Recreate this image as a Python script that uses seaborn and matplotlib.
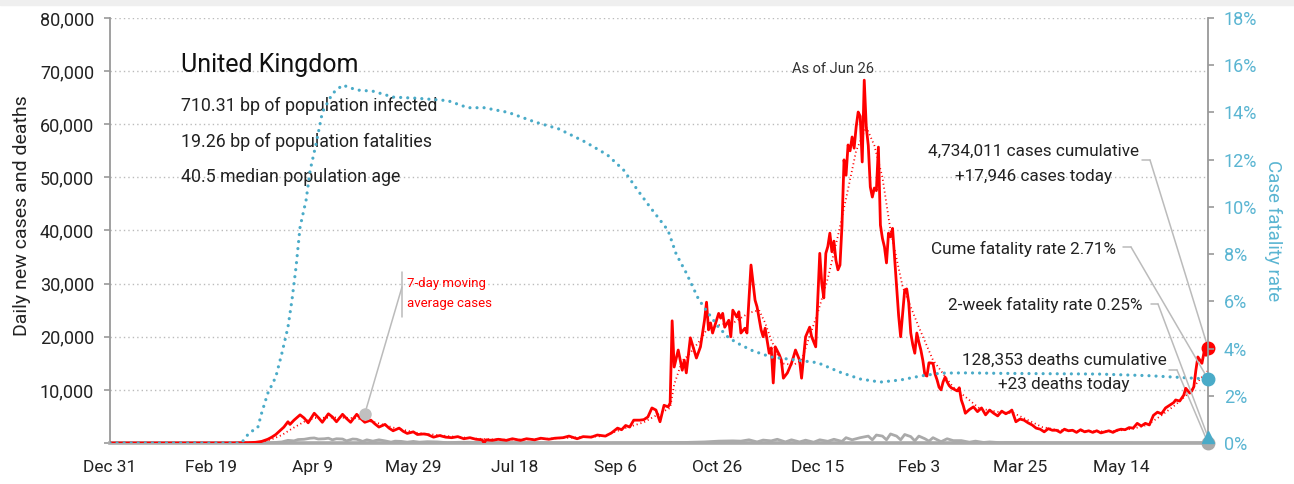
import matplotlib
matplotlib.use("Agg")
import matplotlib.pyplot as plt
import matplotlib.dates as mdates
import seaborn as sns
import pandas as pd

# ---------------- data ----------------
cases_dates = [
    "2019-12-31", "2020-01-31", "2020-02-29", "2020-03-05", "2020-03-09", "2020-03-12", "2020-03-15",
    "2020-03-18", "2020-03-20", "2020-03-22", "2020-03-24", "2020-03-26", "2020-03-28", "2020-03-29", "2020-03-31",
    "2020-04-03", "2020-04-05", "2020-04-07", "2020-04-10", "2020-04-12", "2020-04-14", "2020-04-17",
    "2020-04-19", "2020-04-21", "2020-04-24", "2020-04-26", "2020-04-28",
    "2020-05-01", "2020-05-03", "2020-05-05", "2020-05-08", "2020-05-10", "2020-05-12", "2020-05-15",
    "2020-05-17", "2020-05-19", "2020-05-22", "2020-05-24", "2020-05-26", "2020-05-29", "2020-05-31",
    "2020-06-03", "2020-06-05", "2020-06-08", "2020-06-11", "2020-06-14", "2020-06-17", "2020-06-20",
    "2020-06-23", "2020-06-26", "2020-06-29",
    "2020-07-02", "2020-07-03", "2020-07-04", "2020-07-07", "2020-07-10", "2020-07-14", "2020-07-17",
    "2020-07-21", "2020-07-24", "2020-07-28", "2020-07-31",
    "2020-08-04", "2020-08-07", "2020-08-11", "2020-08-14", "2020-08-18", "2020-08-21", "2020-08-25", "2020-08-28",
    "2020-09-01", "2020-09-04", "2020-09-07", "2020-09-09", "2020-09-11", "2020-09-13", "2020-09-15",
    "2020-09-18", "2020-09-20", "2020-09-22", "2020-09-24", "2020-09-26", "2020-09-28", "2020-09-30",
    "2020-10-02", "2020-10-03", "2020-10-04", "2020-10-05", "2020-10-07", "2020-10-09", "2020-10-10",
    "2020-10-11", "2020-10-13", "2020-10-16", "2020-10-18", "2020-10-20", "2020-10-21", "2020-10-22",
    "2020-10-23", "2020-10-24", "2020-10-27", "2020-10-28", "2020-10-29", "2020-10-30",
    "2020-11-01", "2020-11-02", "2020-11-03", "2020-11-05", "2020-11-06", "2020-11-07", "2020-11-09",
    "2020-11-10", "2020-11-12", "2020-11-14", "2020-11-15", "2020-11-17", "2020-11-18", "2020-11-19",
    "2020-11-21", "2020-11-22", "2020-11-23", "2020-11-24", "2020-11-26", "2020-11-27", "2020-11-28", "2020-11-30",
    "2020-12-02", "2020-12-03", "2020-12-04", "2020-12-06", "2020-12-07", "2020-12-09", "2020-12-11",
    "2020-12-12", "2020-12-14", "2020-12-15", "2020-12-16", "2020-12-17", "2020-12-18", "2020-12-19",
    "2020-12-20", "2020-12-21", "2020-12-22", "2020-12-23", "2020-12-24", "2020-12-25", "2020-12-26",
    "2020-12-27", "2020-12-28", "2020-12-29", "2020-12-30", "2020-12-31",
    "2021-01-01", "2021-01-02", "2021-01-03", "2021-01-04", "2021-01-05", "2021-01-06", "2021-01-07",
    "2021-01-08", "2021-01-09", "2021-01-10", "2021-01-11", "2021-01-12", "2021-01-13", "2021-01-14",
    "2021-01-15", "2021-01-16", "2021-01-17", "2021-01-18", "2021-01-19", "2021-01-20", "2021-01-21",
    "2021-01-22", "2021-01-23", "2021-01-24", "2021-01-25", "2021-01-26", "2021-01-27", "2021-01-28",
    "2021-01-29", "2021-01-30", "2021-01-31",
    "2021-02-01", "2021-02-02", "2021-02-03", "2021-02-04", "2021-02-05", "2021-02-06", "2021-02-07",
    "2021-02-08", "2021-02-10", "2021-02-11", "2021-02-12", "2021-02-13", "2021-02-14", "2021-02-15",
    "2021-02-16", "2021-02-17", "2021-02-18", "2021-02-19", "2021-02-20", "2021-02-21", "2021-02-22",
    "2021-02-23", "2021-02-24", "2021-02-25", "2021-02-26", "2021-02-28",
    "2021-03-02", "2021-03-04", "2021-03-06", "2021-03-08", "2021-03-10", "2021-03-12", "2021-03-14",
    "2021-03-16", "2021-03-18", "2021-03-20", "2021-03-21", "2021-03-23", "2021-03-25", "2021-03-27",
    "2021-03-29", "2021-03-31",
    "2021-04-02", "2021-04-04", "2021-04-06", "2021-04-08", "2021-04-10", "2021-04-12", "2021-04-14",
    "2021-04-16", "2021-04-18", "2021-04-20", "2021-04-22", "2021-04-24", "2021-04-26", "2021-04-28", "2021-04-30",
    "2021-05-02", "2021-05-04", "2021-05-06", "2021-05-08", "2021-05-10", "2021-05-12", "2021-05-14",
    "2021-05-16", "2021-05-18", "2021-05-20", "2021-05-22", "2021-05-24", "2021-05-26", "2021-05-28", "2021-05-30",
    "2021-06-01", "2021-06-03", "2021-06-05", "2021-06-07", "2021-06-09", "2021-06-10", "2021-06-12",
    "2021-06-14", "2021-06-15", "2021-06-17", "2021-06-18", "2021-06-19", "2021-06-20", "2021-06-21",
    "2021-06-22", "2021-06-23", "2021-06-24", "2021-06-25", "2021-06-26",
]
cases_values = [
    0, 2, 10, 50, 70, 130, 300,
    700, 1100, 1600, 2300, 3000, 4000, 3500, 4300,
    5300, 4700, 3800, 5600, 4800, 3900, 5500,
    4900, 4000, 5400, 4600, 3900,
    5400, 4600, 3900, 4300, 3600, 3000, 3500,
    2800, 2300, 2800, 2200, 1800, 2100, 1600,
    1700, 1600, 1100, 1400, 1100, 1000, 1200,
    800, 1000, 700,
    600, 0, 600, 500, 700, 500, 800,
    500, 800, 600, 900,
    700, 900, 1000, 1300, 800, 1200, 1100, 1500,
    1300, 1900, 2800, 2500, 3300, 3000, 4300,
    4300, 4400, 4900, 6600, 6200, 4000, 7100,
    6800, 7500, 23000, 14300, 17500, 13700, 15600,
    13200, 19800, 16000, 18100, 23100, 26500, 21300,
    22600, 20700, 24400, 23500, 24400, 21800,
    23100, 20000, 25000, 23700, 24700, 20700, 21600,
    20700, 33500, 26900, 25600, 21300, 20000, 21600,
    16900, 17900, 11300, 18100, 16600, 15600, 12200, 13200,
    15000, 16200, 17500, 15600, 12200, 20000, 21800,
    20000, 18100, 27000, 35700, 30000, 27300, 35700,
    37000, 39500, 36000, 38000, 34400, 32600, 33500,
    41000, 53300, 50400, 56100, 55000,
    57600, 55500, 59500, 62300, 61500, 52900, 68300,
    59500, 56000, 48200, 46300, 48000, 47500, 55700,
    41000, 38500, 36900, 33900, 39500, 38800, 40400,
    35000, 29400, 24000, 20000, 24400, 28800, 29000,
    26400, 20700, 18500,
    16900, 20700, 19000, 17500, 15500, 12800, 12600,
    15100, 15000, 13000, 11900, 10500, 10000, 11500,
    12400, 11500, 10800, 10400, 10200, 10000, 9800,
    10400, 8100, 7000, 5600, 6300,
    6800, 5900, 6600, 5300, 6200, 5600, 5100,
    6000, 5500, 5900, 6200, 4000, 4500, 4300,
    3800, 3400,
    2800, 2600, 2100, 2700, 2400, 2400, 2000,
    2600, 2300, 2400, 2000, 2500, 2100, 2300, 2000,
    2300, 1900, 2100, 2300, 2000, 2400, 2600,
    2500, 2900, 2800, 3700, 3200, 3700, 3400, 5200,
    5800, 5500, 6600, 7100, 7600, 8100, 7900,
    9000, 10300, 9400, 9800, 10600, 13700, 16200,
    15600, 15000, 17000, 16500, 17946,
]

ma_dates = [
    "2019-12-31", "2020-03-01", "2020-03-10", "2020-03-15", "2020-03-20", "2020-03-25", "2020-03-30",
    "2020-04-05", "2020-04-10", "2020-04-20", "2020-04-30", "2020-05-10", "2020-05-20", "2020-05-31",
    "2020-06-15", "2020-06-30", "2020-07-15", "2020-07-31", "2020-08-15", "2020-08-31", "2020-09-10",
    "2020-09-20", "2020-09-30", "2020-10-03", "2020-10-05", "2020-10-09", "2020-10-12", "2020-10-18",
    "2020-10-21", "2020-10-27", "2020-11-04", "2020-11-11", "2020-11-16", "2020-11-19", "2020-11-22",
    "2020-11-27", "2020-12-03", "2020-12-07", "2020-12-10", "2020-12-15", "2020-12-20", "2020-12-25",
    "2020-12-29", "2021-01-03", "2021-01-08", "2021-01-12", "2021-01-16", "2021-01-20", "2021-01-26",
    "2021-02-03", "2021-02-10", "2021-02-20", "2021-02-26", "2021-03-05", "2021-03-15", "2021-03-22",
    "2021-03-29", "2021-04-05", "2021-04-12", "2021-04-20", "2021-05-01", "2021-05-10", "2021-05-20",
    "2021-05-27", "2021-06-03", "2021-06-10", "2021-06-17", "2021-06-22", "2021-06-26",
]
ma_values = [
    0, 10, 70, 250, 700, 1500, 2700,
    4000, 4700, 4800, 4700, 3900, 2800, 1900,
    1300, 800, 600, 750, 1000, 1300, 2700,
    3900, 6000, 6600, 11000, 15500, 16500, 19400,
    21300, 22200, 22800, 24500, 25000, 22600, 19400,
    15000, 14700, 15600, 19000, 24500, 31000, 39000,
    46000, 55000, 59500, 56000, 50000, 40000, 29400,
    21800, 15600, 10500, 8700, 6500, 5800, 5600,
    4300, 3000, 2500, 2300, 2200, 2200, 2700,
    3400, 5200, 7200, 9600, 12000, 13600,
]

deaths_dates = [
    "2019-12-31", "2020-03-01", "2020-03-10", "2020-03-15", "2020-03-20", "2020-03-25", "2020-03-28",
    "2020-03-31", "2020-04-02", "2020-04-05", "2020-04-08", "2020-04-10", "2020-04-12", "2020-04-15",
    "2020-04-17", "2020-04-19", "2020-04-21", "2020-04-24", "2020-04-26", "2020-04-29", "2020-05-01",
    "2020-05-04", "2020-05-06", "2020-05-09", "2020-05-12", "2020-05-15", "2020-05-18", "2020-05-20",
    "2020-05-23", "2020-05-26", "2020-05-29", "2020-06-01", "2020-06-05", "2020-06-10", "2020-06-15",
    "2020-06-20", "2020-06-25", "2020-07-01", "2020-07-15", "2020-08-01", "2020-08-15", "2020-09-01",
    "2020-09-15", "2020-10-01", "2020-10-10", "2020-10-20", "2020-10-27", "2020-11-03", "2020-11-07",
    "2020-11-11", "2020-11-15", "2020-11-18", "2020-11-22", "2020-11-25", "2020-11-29", "2020-12-02",
    "2020-12-06", "2020-12-09", "2020-12-13", "2020-12-16", "2020-12-20", "2020-12-23", "2020-12-27",
    "2020-12-29", "2021-01-01", "2021-01-05", "2021-01-09", "2021-01-11", "2021-01-13", "2021-01-16",
    "2021-01-18", "2021-01-20", "2021-01-23", "2021-01-25", "2021-01-27", "2021-01-30", "2021-02-01",
    "2021-02-03", "2021-02-06", "2021-02-08", "2021-02-10", "2021-02-14", "2021-02-17", "2021-02-20",
    "2021-02-24", "2021-02-28", "2021-03-03", "2021-03-07", "2021-03-10", "2021-03-15", "2021-03-20",
    "2021-03-25", "2021-04-01", "2021-04-15", "2021-05-01", "2021-05-15", "2021-06-01", "2021-06-15",
    "2021-06-26",
]
deaths_values = [
    0, 0, 5, 20, 50, 200, 500,
    400, 650, 700, 900, 950, 750, 800,
    900, 600, 800, 750, 400, 750, 700,
    300, 600, 350, 600, 400, 160, 350,
    300, 150, 300, 150, 250, 200, 50,
    130, 150, 100, 60, 50, 20, 5,
    20, 60, 100, 200, 350, 400, 350,
    600, 200, 550, 400, 700, 200, 600,
    200, 530, 150, 600, 320, 700, 300,
    1000, 600, 1000, 1300, 600, 1500, 1300,
    600, 1700, 1300, 600, 1600, 1200, 400,
    1300, 800, 350, 1000, 250, 800, 450,
    450, 150, 350, 100, 200, 70, 90,
    70, 40, 20, 10, 10, 5, 10,
    23,
]

cfr_dates = [
    "2019-12-31", "2020-03-05", "2020-03-09", "2020-03-13", "2020-03-15", "2020-03-18", "2020-03-22",
    "2020-03-25", "2020-03-28", "2020-03-30", "2020-04-01", "2020-04-03", "2020-04-06", "2020-04-08",
    "2020-04-11", "2020-04-14", "2020-04-19", "2020-04-24", "2020-05-01", "2020-05-09", "2020-05-19",
    "2020-05-31", "2020-06-15", "2020-06-25", "2020-07-03", "2020-07-15", "2020-07-28", "2020-08-09",
    "2020-08-22", "2020-09-02", "2020-09-10", "2020-09-17", "2020-09-23", "2020-10-02", "2020-10-06",
    "2020-10-11", "2020-10-17", "2020-10-21", "2020-10-27", "2020-11-01", "2020-11-07", "2020-11-13",
    "2020-11-22", "2020-12-01", "2020-12-15", "2020-12-26", "2021-01-05", "2021-01-15", "2021-01-25",
    "2021-02-04", "2021-02-14", "2021-02-27", "2021-03-15", "2021-05-03", "2021-05-28", "2021-06-26",
]
cfr_values = [
    0, 0, 0.45, 0.63, 1.27, 2.1, 2.8,
    3.8, 4.9, 6.06, 7.45, 9.15, 10.3, 11.56,
    12.7, 14.0, 14.8, 15.16, 14.95, 14.9, 14.65,
    14.6, 14.5, 14.2, 14.2, 14.0, 13.6, 13.3,
    12.75, 12.2, 11.56, 10.7, 10.0, 9.0, 8.0,
    7.2, 6.1, 5.6, 4.9, 4.45, 4.15, 3.9,
    3.64, 3.55, 3.4, 3.0, 2.71, 2.58, 2.67,
    2.84, 2.96, 2.97, 2.95, 2.92, 2.85, 2.71,
]

x_tick_dates = ["2019-12-31", "2020-02-19", "2020-04-09", "2020-05-29", "2020-07-18", "2020-09-06",
                "2020-10-26", "2020-12-15", "2021-02-03", "2021-03-25", "2021-05-14"]
left_ticks = [0, 10000, 20000, 30000, 40000, 50000, 60000, 70000, 80000]
right_ticks = [0, 2, 4, 6, 8, 10, 12, 14, 16, 18]

last_date = "2021-06-26"
last_cases = 17946
last_deaths = 23
total_cases = 4734011
total_deaths = 128353
cume_cfr = 2.71
two_week_cfr = 0.25
ma_label_anchor = ("2020-05-05", 5500)

title = "United Kingdom"
info_lines = ["710.31 bp of population infected", "19.26 bp of population fatalities",
              "40.5 median population age"]

assert len(cases_dates) == len(cases_values)
assert len(ma_dates) == len(ma_values)
assert len(deaths_dates) == len(deaths_values)
assert len(cfr_dates) == len(cfr_values)

# ---------------- style ----------------
sns.set_style("white")
plt.rcParams["font.family"] = ["Roboto", "DejaVu Sans"]

RED = "#ff0000"
TEAL = "#4aabc8"
TEAL_TXT = "#5ab5d2"
GRAY = "#aaaaaa"
AXGRAY = "#999999"
TXT = "#222222"
CONN = "#bbbbbb"

W, H = 1294, 484
L, R, T, B = 110, 1208, 18, 443

fig = plt.figure(figsize=(W / 100, H / 100), dpi=100)
fig.patches.append(plt.Rectangle((0, 1 - 5 / H), 1, 5 / H, transform=fig.transFigure,
                                 color="#efefef", zorder=0))
ax = fig.add_axes([L / W, (H - B) / H, (R - L) / W, (B - T) / H])
ax2 = ax.twinx()

df_cases = pd.DataFrame({"date": pd.to_datetime(cases_dates), "value": cases_values})
df_ma = pd.DataFrame({"date": pd.to_datetime(ma_dates), "value": ma_values})
df_deaths = pd.DataFrame({"date": pd.to_datetime(deaths_dates), "value": deaths_values})
df_cfr = pd.DataFrame({"date": pd.to_datetime(cfr_dates), "value": cfr_values})

sns.lineplot(data=df_deaths, x="date", y="value", ax=ax, color=GRAY, linewidth=2.0,
             estimator=None, zorder=3)
sns.lineplot(data=df_cases, x="date", y="value", ax=ax, color=RED, linewidth=2.0,
             estimator=None, zorder=4)
sns.lineplot(data=df_ma, x="date", y="value", ax=ax, color=RED, linewidth=1.3,
             linestyle=(0, (0.6, 1.6)), estimator=None, zorder=5)
sns.lineplot(data=df_cfr, x="date", y="value", ax=ax2, color=TEAL, linewidth=2.3,
             linestyle=(0, (0.01, 2.2)), dash_capstyle="round", estimator=None, zorder=3)

ld = mdates.date2num(pd.Timestamp(last_date))
ax.plot([ld], [last_deaths], "o", color=GRAY, ms=9, clip_on=False, zorder=6)
ax.plot([ld], [last_cases], "o", color=RED, ms=9, clip_on=False, zorder=7)
ax2.plot([ld], [cume_cfr], "o", color=TEAL, ms=9, clip_on=False, zorder=7)
ax2.plot([ld], [two_week_cfr], "^", color=TEAL, ms=9, clip_on=False, zorder=7)

# axes limits / ticks
ax.set_xlim(mdates.date2num(pd.Timestamp(x_tick_dates[0])), ld)
ax.set_ylim(0, 80000)
ax2.set_ylim(0, 18)
xt = [mdates.date2num(pd.Timestamp(d)) for d in x_tick_dates]
ax.set_xticks(xt)
ax.set_xticklabels([f"{pd.Timestamp(d):%b} {pd.Timestamp(d).day}" for d in x_tick_dates])
ax.set_yticks(left_ticks)
ax.set_yticklabels(["" if v == 0 else f"{v:,}" for v in left_ticks])
ax2.set_yticks(right_ticks)
ax2.set_yticklabels([f"{v}%" for v in right_ticks])

ax.tick_params(axis="x", length=5, width=1.2, color=AXGRAY, labelsize=12.5, labelcolor=TXT, pad=7)
ax.tick_params(axis="y", length=4.5, width=1.2, color=AXGRAY, labelsize=13, labelcolor=TXT, pad=7)
ax2.tick_params(axis="y", length=4.5, width=1.2, color=AXGRAY, labelsize=13, labelcolor=TEAL_TXT, pad=7)

ax.yaxis.grid(True, linestyle=(0, (1, 2.2)), color="#bbbbbb", linewidth=1.0)
ax.xaxis.grid(False)
ax.set_axisbelow(True)

for s in ["top", "right"]:
    ax.spines[s].set_visible(False)
for s in ["top", "left", "bottom"]:
    ax2.spines[s].set_visible(False)
ax.spines["left"].set_color(AXGRAY)
ax.spines["left"].set_linewidth(1.3)
ax2.spines["right"].set_color(AXGRAY)
ax2.spines["right"].set_linewidth(1.3)
ax.spines["bottom"].set_color(GRAY)
ax.spines["bottom"].set_linewidth(2.6)

ax.set_xlabel("")
ax.set_ylabel("Daily new cases and deaths", fontsize=14, color=TXT, ha="center", va="center")
ax.yaxis.set_label_coords((22 - L) / (R - L), (B - 216) / (B - T))
ax2.set_ylabel("Case fatality rate", fontsize=13.5, color=TEAL_TXT, rotation=270,
               ha="center", va="center")
ax2.yaxis.set_label_coords((1273 - L) / (R - L), (B - 231) / (B - T))


def fx(px):
    return (px - L) / (R - L)


def fy(py):
    return (B - py) / (B - T)


# info block
ax.text(fx(181), fy(72), title, transform=ax.transAxes, fontsize=18, color="#111111",
        ha="left", va="baseline")
for line, base in zip(info_lines, [111, 147, 182]):
    ax.text(fx(181), fy(base), line, transform=ax.transAxes, fontsize=12.8, color=TXT,
            ha="left", va="baseline")

ax.text(fx(833), fy(73), "As of " + f"{pd.Timestamp(last_date):%b} {pd.Timestamp(last_date).day}",
        transform=ax.transAxes, fontsize=10.5, color="#333333", ha="center", va="baseline")

# moving-average label
ax.text(fx(407), fy(287), "7-day moving", transform=ax.transAxes, fontsize=9.5, color=RED,
        ha="left", va="baseline")
ax.text(fx(407), fy(307), "average cases", transform=ax.transAxes, fontsize=9.5, color=RED,
        ha="left", va="baseline")
ax.plot([fx(402), fx(402)], [fy(272), fy(317)], transform=ax.transAxes, color=CONN, lw=1.1,
        clip_on=False)
anc = (mdates.date2num(pd.Timestamp(ma_label_anchor[0])), ma_label_anchor[1])
ax.annotate("", xy=anc, xycoords="data", xytext=(fx(402), fy(287)), textcoords="axes fraction",
            arrowprops=dict(arrowstyle="-", color=CONN, lw=1.1, shrinkA=0, shrinkB=0))
ax.plot([anc[0]], [anc[1]], "o", color="#c0c0c0", ms=8, zorder=8)


# right-side annotations
def label(lines, cx, bases, ha="center"):
    for t, b in zip(lines, bases):
        ax.text(fx(cx), fy(b), t, transform=ax.transAxes, fontsize=12.3, color=TXT,
                ha=ha, va="baseline")


label([f"{total_cases:,} cases cumulative", f"+{last_cases:,} cases today"], 1033.5, [156, 181])
label([f"Cume fatality rate {cume_cfr:.2f}%"], 1116, [254], ha="right")
label([f"2-week fatality rate {two_week_cfr:.2f}%"], 1143, [310], ha="right")
label([f"{total_deaths:,} deaths cumulative", f"+{last_deaths} deaths today"], 1064, [365, 389])


def connector(axis, x0, x1, y, target):
    ax.plot([fx(x0), fx(x1)], [fy(y), fy(y)], transform=ax.transAxes, color=CONN, lw=1.1,
            clip_on=False, zorder=9)
    axis.annotate("", xy=target, xycoords="data", xytext=(fx(x1), fy(y)),
                  textcoords="axes fraction",
                  arrowprops=dict(arrowstyle="-", color=CONN, lw=1.1, shrinkA=0, shrinkB=0))


connector(ax, 1142, 1150, 160, (ld, last_cases))
connector(ax2, 1123, 1131, 247, (ld, cume_cfr))
connector(ax2, 1151, 1158, 304, (ld, two_week_cfr))
connector(ax, 1169, 1177, 370, (ld, last_deaths))

fig.savefig("out.png", dpi=100, facecolor="white")
